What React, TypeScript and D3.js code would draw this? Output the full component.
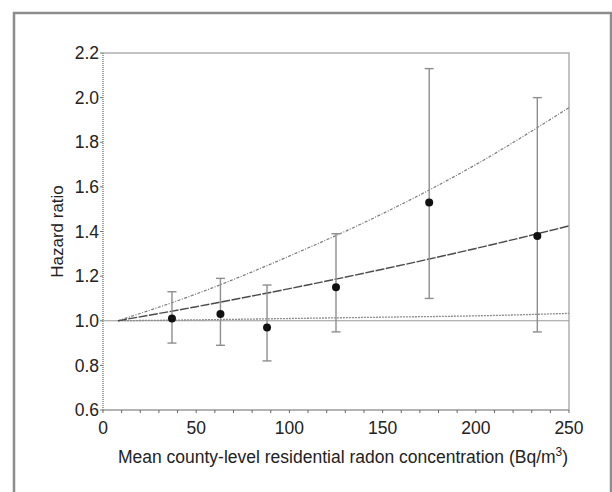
import { useEffect, useRef } from "react"
import * as d3 from "d3"

// category points (mean county-level radon, Bq/m3)
const pointX = [37, 63, 88, 125, 175, 233]
const pointHR = [1.01, 1.03, 0.97, 1.15, 1.53, 1.38]
const ciLow = [0.9, 0.89, 0.82, 0.95, 1.1, 0.95]
const ciHigh = [1.13, 1.19, 1.16, 1.39, 2.13, 2.0]

// fitted trend and its confidence band
const trendX = [8, 50, 100, 150, 200, 250]
const trendHR = [1.0, 1.063, 1.144, 1.231, 1.324, 1.425]
const trendUpper = [1.0, 1.12, 1.29, 1.48, 1.7, 1.955]
const trendLower = [1.0, 1.004, 1.01, 1.016, 1.022, 1.033]

const xTicks = [0, 50, 100, 150, 200, 250]
const yTicks = [0.6, 0.8, 1.0, 1.2, 1.4, 1.6, 1.8, 2.0, 2.2]

const font = "'Liberation Sans', Arial, sans-serif"

const App = () => {
  const svgRef = useRef(null)

  useEffect(() => {
    const svg = d3.select(svgRef.current)
    svg.selectAll("*").remove()

    const left = 103, right = 569, top = 53, bottom = 410
    const x = d3.scaleLinear().domain([0, 250]).range([left, right])
    const y = d3.scaleLinear().domain([0.6, 2.2]).range([bottom, top])

    // outer frame
    svg.append("rect")
      .attr("x", 14).attr("y", 13)
      .attr("width", 597).attr("height", 500)
      .attr("fill", "none")
      .attr("stroke", "#8c8c8c")
      .attr("stroke-width", 2.5)

    // plot box top/right
    svg.append("path")
      .attr("d", `M${left},${top}H${right}V${bottom}`)
      .attr("fill", "none")
      .attr("stroke", "#b0b0b0")
      .attr("stroke-width", 1.5)

    // reference line at HR = 1
    svg.append("line")
      .attr("x1", left).attr("x2", right)
      .attr("y1", y(1)).attr("y2", y(1))
      .attr("stroke", "#9a9a9a")
      .attr("stroke-width", 1)

    const mkLine = (vals) => d3.line()
      .x((d, i) => x(trendX[i]))
      .y(d => y(d))
      .curve(d3.curveMonotoneX)(vals)

    svg.append("path")
      .attr("d", mkLine(trendLower))
      .attr("fill", "none")
      .attr("stroke", "#8a8a8a")
      .attr("stroke-width", 1.3)
      .attr("stroke-dasharray", "2,1")

    svg.append("path")
      .attr("d", mkLine(trendUpper))
      .attr("fill", "none")
      .attr("stroke", "#7a7a7a")
      .attr("stroke-width", 1.2)
      .attr("stroke-dasharray", "3,1.5,1,1.5")

    svg.append("path")
      .attr("d", mkLine(trendHR))
      .attr("fill", "none")
      .attr("stroke", "#4a4a4a")
      .attr("stroke-width", 1.4)
      .attr("stroke-dasharray", "9,1.5")

    // error bars
    const bars = svg.append("g").attr("stroke", "#8e8e8e").attr("stroke-width", 1.4)
    pointX.forEach((px, i) => {
      bars.append("line")
        .attr("x1", x(px)).attr("x2", x(px))
        .attr("y1", y(ciLow[i])).attr("y2", y(ciHigh[i]))
      ;[ciLow[i], ciHigh[i]].forEach(v => {
        bars.append("line")
          .attr("x1", x(px) - 4.5).attr("x2", x(px) + 4.5)
          .attr("y1", y(v)).attr("y2", y(v))
      })
    })

    svg.append("g")
      .selectAll("circle")
      .data(pointX)
      .join("circle")
      .attr("cx", d => x(d))
      .attr("cy", (d, i) => y(pointHR[i]))
      .attr("r", 4)
      .attr("fill", "#111")

    // y axis: dotted line with dense minor ticks
    svg.append("line")
      .attr("x1", left).attr("x2", left)
      .attr("y1", top).attr("y2", bottom)
      .attr("stroke", "#8a8a8a")
      .attr("stroke-width", 1.6)
      .attr("stroke-dasharray", "1,1")
    svg.append("g")
      .selectAll("line")
      .data(yTicks)
      .join("line")
      .attr("x1", left - 3).attr("x2", left)
      .attr("y1", d => y(d)).attr("y2", d => y(d))
      .attr("stroke", "#777")
    svg.append("g")
      .selectAll("text")
      .data(yTicks)
      .join("text")
      .attr("x", left - 4)
      .attr("y", d => y(d))
      .attr("dy", "0.35em")
      .attr("text-anchor", "end")
      .attr("font-family", font)
      .attr("font-size", 17.5)
      .attr("fill", "#222")
      .text(d => d.toFixed(1))

    // x axis
    svg.append("line")
      .attr("x1", left).attr("x2", right)
      .attr("y1", bottom).attr("y2", bottom)
      .attr("stroke", "#9a9a9a")
      .attr("stroke-width", 1.5)
    svg.append("g")
      .selectAll("line")
      .data(d3.range(0, 251, 10))
      .join("line")
      .attr("x1", d => x(d)).attr("x2", d => x(d))
      .attr("y1", bottom).attr("y2", bottom + 3)
      .attr("stroke", "#666")
      .attr("stroke-width", 1)
    svg.append("g")
      .selectAll("text")
      .data(xTicks)
      .join("text")
      .attr("x", d => x(d))
      .attr("y", bottom + 24)
      .attr("text-anchor", "middle")
      .attr("font-family", font)
      .attr("font-size", 17.5)
      .attr("fill", "#222")
      .text(d => d)

    const xl = svg.append("text")
      .attr("x", 343)
      .attr("y", 463)
      .attr("text-anchor", "middle")
      .attr("font-family", font)
      .attr("font-size", 17.5)
      .attr("fill", "#222")
    xl.append("tspan").text("Mean county-level residential radon concentration (Bq/m")
    xl.append("tspan").attr("font-size", 12).attr("dy", -7).text("3")
    xl.append("tspan").attr("dy", 7).text(")")

    svg.append("text")
      .attr("transform", `translate(63,${(top + bottom) / 2}) rotate(-90)`)
      .attr("text-anchor", "middle")
      .attr("font-family", font)
      .attr("font-size", 17)
      .attr("fill", "#222")
      .text("Hazard ratio")
  }, [])

  return (
    <svg ref={svgRef} width={612} height={492}
      style={{ position: "absolute", left: 0, top: 0, background: "#fff" }} />
  )
}

export default App
